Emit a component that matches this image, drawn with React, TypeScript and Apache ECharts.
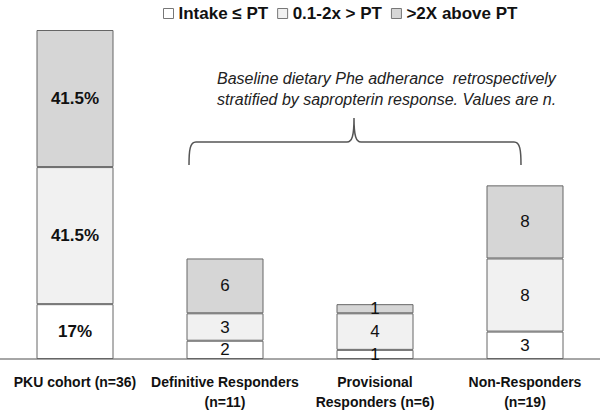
import React, { useEffect, useRef } from "react";
import * as echarts from "echarts";

const categories = [
  "PKU cohort (n=36)",
  "Definitive Responders\n(n=11)",
  "Provisional\nResponders (n=6)",
  "Non-Responders\n(n=19)",
];
const seriesNames = ["Intake \u2264 PT", "0.1-2x > PT", ">2X above PT"];
const intakeValues = [6, 2, 1, 3];
const midValues = [15, 3, 4, 8];
const aboveValues = [15, 6, 1, 8];
const cohortPctLabels = ["17%", "41.5%", "41.5%"];
const noteLines = [
  "Baseline dietary Phe adherance  retrospectively",
  "stratified by sapropterin response. Values are n.",
];

const fills = ["#ffffff", "#f1f1f1", "#d6d6d6"];
const FONT = "'Liberation Sans', Arial, Helvetica, sans-serif";

export default function App() {
  const ref = useRef<HTMLDivElement>(null);
  useEffect(() => {
    document.body.style.margin = "0";
    if (!ref.current) return;
    const d =
      "M189,165 C189,150 190,142 196,142 L347,142 C352,142 354,136 354,118 C354,136 356,142 361,142 L514,142 C520,142 521,150 521,165";
    try {
      echarts.graphic.registerShape("brace", (echarts.graphic as any).extendPath(d, {}));
    } catch (e) {}
    const chart = echarts.init(ref.current, null, { renderer: "svg" });
    const dataSets = [intakeValues, midValues, aboveValues];
    const series = dataSets.map((vals, si) => ({
      name: seriesNames[si],
      type: "bar",
      stack: "total",
      barWidth: 77,
      data: vals,
      itemStyle: { color: fills[si], borderColor: "#666", borderWidth: 1 },
      label: {
        show: true,
        position: "inside",
        fontFamily: FONT,
        color: "#111",
        formatter: (p: any) =>
          p.dataIndex === 0 ? "{b|" + cohortPctLabels[si] + "}" : "{n|" + p.value + "}",
        rich: {
          b: { fontSize: 17, fontWeight: "bold", fontFamily: FONT, color: "#111" },
          n: { fontSize: 17, fontFamily: FONT, color: "#111" },
        },
      },
    }));
    chart.setOption({
      animation: false,
      backgroundColor: "#ffffff",
      grid: { left: 0, right: 0, top: 30, bottom: 49 },
      legend: {
        top: 0,
        left: 158,
        icon: "rect",
        itemWidth: 10,
        itemHeight: 10,
        itemGap: 9,
        data: seriesNames.map((n, i) => ({
          name: n,
          itemStyle: { color: fills[i], borderColor: "#777", borderWidth: 1 },
        })),
        textStyle: { fontFamily: FONT, fontSize: 17, fontWeight: "bold", color: "#111" },
      },
      xAxis: {
        type: "category",
        data: categories,
        axisLine: { lineStyle: { color: "#888", width: 1.5 } },
        axisTick: { show: false },
        axisLabel: {
          interval: 0,
          margin: 13,
          fontFamily: FONT,
          fontSize: 14,
          fontWeight: "bold",
          color: "#111",
          lineHeight: 20,
        },
      },
      yAxis: { type: "value", min: 0, max: 36, show: false, splitLine: { show: false } },
      series,
      graphic: [
        {
          type: "brace",
          x: 0,
          y: 0,
          style: { fill: "none", stroke: "#555", lineWidth: 1.5 },
        },
        {
          type: "text",
          left: 217,
          top: 68,
          style: {
            text: noteLines.join("\n"),
            fontFamily: FONT,
            fontStyle: "italic",
            fontSize: 16,
            lineHeight: 21,
            fill: "#222",
          },
        },
      ],
    });
    return () => chart.dispose();
  }, []);
  return <div ref={ref} style={{ width: 600, height: 412, position: "absolute", left: 0, top: 0 }} />;
}
